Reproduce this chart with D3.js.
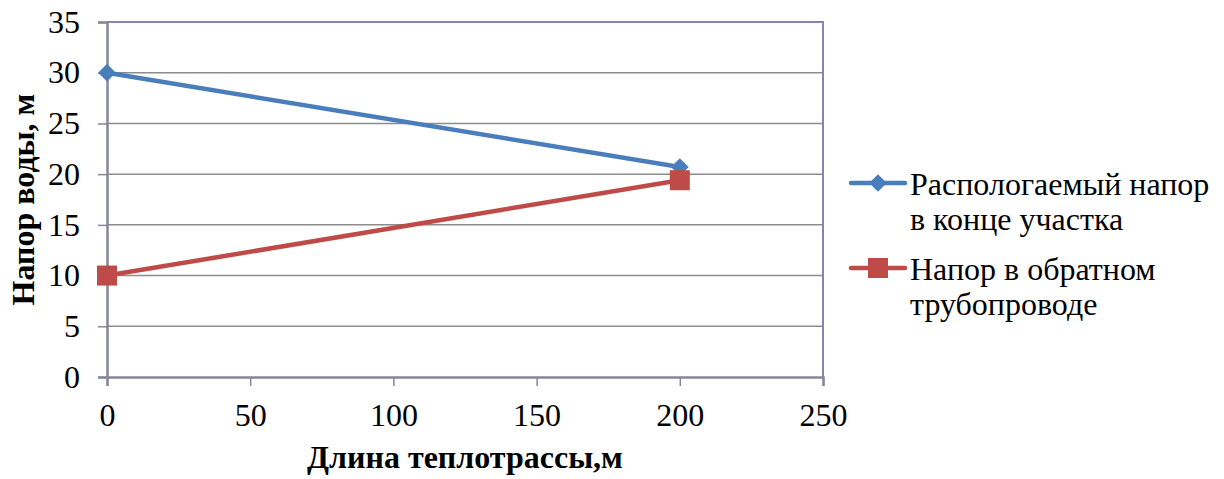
<!DOCTYPE html>
<html>
<head>
<meta charset="utf-8">
<script src="https://cdn.jsdelivr.net/npm/d3@7"></script>
<style>
  html, body { margin: 0; padding: 0; background: #fff; }
</style>
</head>
<body>
<svg id="chart" width="1224" height="479"></svg>
<script>
// Pipe length along the section, m
const lengths = [0, 200];
// Available head at the end of the section, m
const headSupply = [30, 20.7];
// Head in the return pipeline, m
const headReturn = [10, 19.4];
const seriesNames = ["Распологаемый напор\nв конце участка", "Напор в обратном\nтрубопроводе"];
const xTicks = [0, 50, 100, 150, 200, 250];
const yTicks = [0, 5, 10, 15, 20, 25, 30, 35];
const xTitle = "Длина теплотрассы,м";
const yTitle = "Напор воды, м";

const FONT = '"Liberation Serif", "Times New Roman", serif';
const FS = 32;

const svg = d3.select("#chart");
const plot = { left: 107, right: 823, top: 22, bottom: 377 };

const x = d3.scaleLinear().domain([0, 250]).range([plot.left, plot.right]);
const y = d3.scaleLinear().domain([0, 35]).range([plot.bottom, plot.top]);

const gridColor = "#8c8c8c";
const axisColor = "#878797";
const frameColor = "#8484b4";

// horizontal gridlines
svg.append("g").selectAll("line")
  .data(yTicks.filter(d => d > 0))
  .join("line")
  .attr("x1", plot.left).attr("x2", plot.right)
  .attr("y1", d => y(d)).attr("y2", d => y(d))
  .attr("stroke", gridColor).attr("stroke-width", 1.5);

// plot frame (top and right)
svg.append("path")
  .attr("d", `M${plot.left},${plot.top}H${plot.right}V${plot.bottom}`)
  .attr("fill", "none").attr("stroke", frameColor).attr("stroke-width", 2);

function styleAxis(g) {
  g.select(".domain").attr("stroke", axisColor).attr("stroke-width", 2.5);
  g.selectAll(".tick line").attr("stroke", axisColor).attr("stroke-width", 1.5);
  g.selectAll(".tick text")
    .style("font-family", FONT).style("font-size", FS + "px").attr("fill", "#000");
}

// y axis
svg.append("g")
  .attr("transform", `translate(${plot.left},0)`)
  .call(d3.axisLeft(y).tickValues(yTicks).tickSize(9).tickPadding(18).tickFormat(d3.format("d")))
  .call(styleAxis);

// x axis
svg.append("g")
  .attr("transform", `translate(0,${plot.bottom})`)
  .call(d3.axisBottom(x).tickValues(xTicks).tickSize(9).tickPadding(17).tickFormat(d3.format("d")))
  .call(styleAxis);

// axis titles
svg.append("text")
  .attr("x", (plot.left + plot.right) / 2).attr("y", 468)
  .attr("text-anchor", "middle")
  .style("font-family", FONT).style("font-size", FS + "px").style("font-weight", "bold")
  .text(xTitle);

svg.append("text")
  .attr("transform", `translate(34,${(plot.top + plot.bottom) / 2}) rotate(-90)`)
  .attr("text-anchor", "middle")
  .style("font-family", FONT).style("font-size", FS + "px").style("font-weight", "bold")
  .text(yTitle);

const series = [
  { name: seriesNames[0], values: headSupply, color: "#4a7ebb", marker: d3.symbolDiamond2, size: 200 },
  { name: seriesNames[1], values: headReturn, color: "#be4b48", marker: d3.symbolSquare, size: 400 }
];

const line = d3.line().x(d => x(d[0])).y(d => y(d[1]));

series.forEach(s => {
  const pts = lengths.map((l, j) => [l, s.values[j]]);
  svg.append("path")
    .datum(pts)
    .attr("d", line)
    .attr("fill", "none")
    .attr("stroke", s.color)
    .attr("stroke-width", 4.5)
    .attr("stroke-linecap", "round");
  svg.append("g").selectAll("path")
    .data(pts)
    .join("path")
    .attr("transform", d => `translate(${x(d[0])},${y(d[1])})`)
    .attr("d", d3.symbol().type(s.marker).size(s.size))
    .attr("fill", s.color);
});

// legend
const legendY = [183, 268];
series.forEach((s, i) => {
  const g = svg.append("g").attr("transform", `translate(0,${legendY[i]})`);
  g.append("line").attr("x1", 851).attr("x2", 905).attr("y1", 0).attr("y2", 0)
    .attr("stroke", s.color).attr("stroke-width", 4.5).attr("stroke-linecap", "round");
  g.append("path")
    .attr("transform", "translate(878,0)")
    .attr("d", d3.symbol().type(s.marker).size(s.size))
    .attr("fill", s.color);
  const t = g.append("text").attr("x", 910).attr("y", 12)
    .style("font-family", FONT).style("font-size", FS + "px").attr("fill", "#000");
  s.name.split("\n").forEach((ln, k) => {
    t.append("tspan").attr("x", 910).attr("dy", k === 0 ? 0 : 35).text(ln);
  });
});
</script>
</body>
</html>
